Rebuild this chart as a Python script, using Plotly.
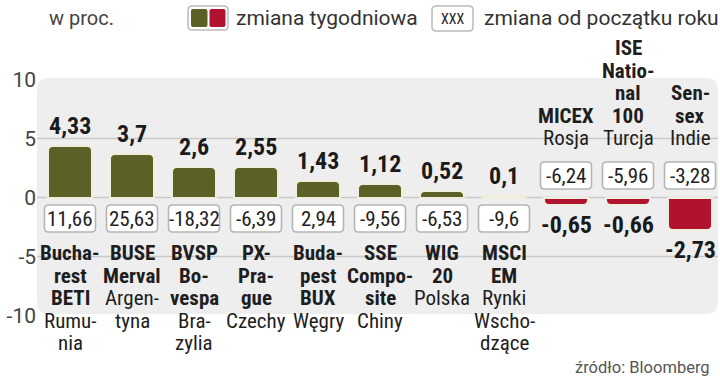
import plotly.graph_objects as go

# ---------------- data ----------------
weekly = [4.33, 3.7, 2.6, 2.55, 1.43, 1.12, 0.52, 0.1, -0.65, -0.66, -2.73]
ytd = [11.66, 25.63, -18.32, -6.39, 2.94, -9.56, -6.53, -9.6, -6.24, -5.96, -3.28]
index_lines = [
    ["Bucha-", "rest", "BETI"],
    ["BUSE", "Merval"],
    ["BVSP", "Bo-", "vespa"],
    ["PX-", "Pra-", "gue"],
    ["Buda-", "pest", "BUX"],
    ["SSE", "Compo-", "site"],
    ["WIG", "20"],
    ["MSCI", "EM"],
    ["MICEX"],
    ["ISE", "Natio-", "nal", "100"],
    ["Sen-", "sex"],
]
country_lines = [
    ["Rumu-", "nia"],
    ["Argen-", "tyna"],
    ["Bra-", "zylia"],
    ["Czechy"],
    ["Węgry"],
    ["Chiny"],
    ["Polska"],
    ["Rynki", "Wscho-", "dzące"],
    ["Rosja"],
    ["Turcja"],
    ["Indie"],
]
tick_vals = [-10, -5, 0, 5, 10]
tick_text = ["-10", "-5", "0", "5", "10"]

# ---------------- style ----------------
GREEN = "#5a6026"
RED = "#b0122f"
PANEL = "#eeeeee"
GRID = "#c9c9c9"
NARROW = "Liberation Sans Narrow, Arial Narrow, Roboto Condensed, sans-serif"
SANS = "Roboto, Open Sans, sans-serif"

W, H = 720, 379
PLOT_L = 37
UX = 62.0      # px per category
UY = 11.8      # px per unit
ZERO_PY = 197.5
CENTER0_PX = 70.0


def dx(px):
    return (px - CENTER0_PX) / UX


def dy(py):
    return (ZERO_PY - py) / UY


x_range = [dx(PLOT_L), dx(W)]
y_range = [dy(H), dy(0)]


def rrect(x0, y0, x1, y1, r):
    """rounded rect path, pixel coords -> data coords"""
    def p(x, y):
        return f"{dx(x):.5f},{dy(y):.5f}"
    return (f"M {p(x0 + r, y0)} L {p(x1 - r, y0)} Q {p(x1, y0)} {p(x1, y0 + r)} "
            f"L {p(x1, y1 - r)} Q {p(x1, y1)} {p(x1 - r, y1)} L {p(x0 + r, y1)} "
            f"Q {p(x0, y1)} {p(x0, y1 - r)} L {p(x0, y0 + r)} Q {p(x0, y0)} {p(x0 + r, y0)} Z")


def fmt(v):
    s = f"{v:.2f}".rstrip("0").rstrip(".")
    return s.replace(".", ",")


fig = go.Figure()

colors = [GREEN if v >= 0 else RED for v in weekly]
fig.add_trace(go.Bar(
    x=list(range(len(weekly))), y=weekly, width=0.71,
    marker=dict(color=colors, line=dict(color="#efeedc", width=2), cornerradius=5),
    hoverinfo="skip", showlegend=False,
))

shapes = []
# panel
shapes.append(dict(type="path", path=rrect(37, 78, 718, 314, 12), fillcolor=PANEL,
                   line=dict(width=0), layer="below", xref="x", yref="y"))
# grid lines
for gv in [5, 0, -5]:
    shapes.append(dict(type="line", x0=dx(37), x1=dx(718), y0=gv, y1=gv, xref="x", yref="y",
                       line=dict(color=GRID, width=1.5), layer="below"))

annotations = []
for i, (w, y) in enumerate(zip(weekly, ytd)):
    cx = CENTER0_PX + UX * i
    # weekly value label
    annotations.append(dict(x=i, y=w, xref="x", yref="y", text=fmt(w), showarrow=False,
                             yshift=20 if w >= 0 else -20, yanchor="middle",
                             font=dict(family=NARROW, size=24, color="#1a1a1a", weight="bold")))
    # ytd box
    bc = 218.5 if w >= 0 else 175.5
    shapes.append(dict(type="path", path=rrect(cx - 25.5, bc - 13.5, cx + 25.5, bc + 13.5, 4),
                       fillcolor="white", line=dict(color="#b5b5b5", width=1.6),
                       xref="x", yref="y", layer="above"))
    annotations.append(dict(x=i, y=dy(bc), xref="x", yref="y", text=fmt(y), showarrow=False,
                            yanchor="middle",
                            font=dict(family=NARROW, size=21, color="#222222")))
    # category labels
    lines = [(t, True) for t in index_lines[i]] + [(t, False) for t in country_lines[i]]
    if w >= 0:
        pys = [253 + 22.5 * k for k in range(len(lines))]
    else:
        n = len(lines)
        pys = [138 - 22.5 * (n - 1 - k) for k in range(n)]
    for (t, b), py in zip(lines, pys):
        annotations.append(dict(x=i, y=dy(py), xref="x", yref="y", text=t, showarrow=False,
                                yanchor="middle",
                                font=dict(family=NARROW, size=21, color="#1e1e1e",
                                          weight="bold" if b else "normal")))

# header / legend
annotations.append(dict(x=dx(47), y=dy(18), xref="x", yref="y", text="w proc.", showarrow=False,
                        xanchor="left", yanchor="middle", font=dict(family=SANS, size=20, color="#444444")))
shapes.append(dict(type="path", path=rrect(188, 6, 228, 30, 4), fillcolor="white",
                   line=dict(color="#bbbbbb", width=1.5), xref="x", yref="y"))
shapes.append(dict(type="path", path=rrect(191, 9, 207.5, 27, 2), fillcolor=GREEN,
                   line=dict(width=0), xref="x", yref="y"))
shapes.append(dict(type="path", path=rrect(209.5, 9, 225.5, 27, 2), fillcolor=RED,
                   line=dict(width=0), xref="x", yref="y"))
annotations.append(dict(x=dx(234), y=dy(18), xref="x", yref="y", text="zmiana tygodniowa",
                        showarrow=False, xanchor="left", yanchor="middle",
                        font=dict(family=SANS, size=21, color="#333333")))
shapes.append(dict(type="path", path=rrect(432, 6, 473, 31, 4), fillcolor="white",
                   line=dict(color="#bbbbbb", width=1.5), xref="x", yref="y"))
annotations.append(dict(x=dx(452.5), y=dy(18.5), xref="x", yref="y", text="XXX", showarrow=False,
                        yanchor="middle", font=dict(family=NARROW, size=14, color="#222222")))
annotations.append(dict(x=dx(482), y=dy(18), xref="x", yref="y", text="zmiana od początku roku",
                        showarrow=False, xanchor="left", yanchor="middle",
                        font=dict(family=SANS, size=21, color="#333333")))
# source
annotations.append(dict(x=dx(712), y=dy(367), xref="x", yref="y", text="źródło: Bloomberg",
                        showarrow=False, xanchor="right", yanchor="middle",
                        font=dict(family=SANS, size=16.5, color="#555555")))

fig.update_layout(
    width=W, height=H,
    margin=dict(l=PLOT_L, r=0, t=0, b=0),
    paper_bgcolor="white", plot_bgcolor="white",
    xaxis=dict(range=x_range, visible=False, fixedrange=True),
    yaxis=dict(range=y_range, tickvals=tick_vals, ticktext=tick_text, showgrid=False,
               zeroline=False, showline=False, ticks="", fixedrange=True,
               tickfont=dict(family=SANS, size=21, color="#444444")),
    shapes=shapes, annotations=annotations, showlegend=False, bargap=0,
)

fig.write_html("out.html", config={"displayModeBar": False})
